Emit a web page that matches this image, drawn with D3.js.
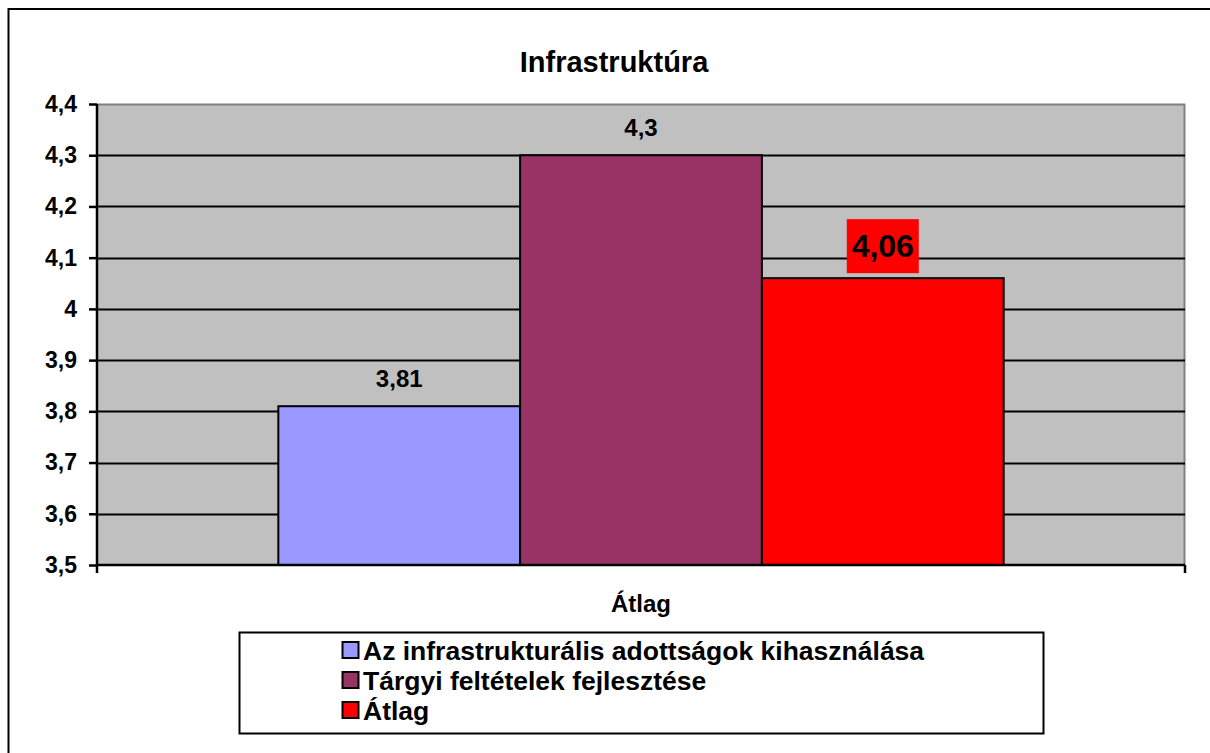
<!DOCTYPE html>
<html>
<head>
<meta charset="utf-8">
<script src="https://cdn.jsdelivr.net/npm/d3@7"></script>
<style>
  body { margin: 0; background: #fff; }
  text { font-family: Arial, "Liberation Sans", sans-serif; font-weight: bold; fill: #000; }
</style>
</head>
<body>
<div id="graf"></div>
<script>
const cim = "Infrastruktúra"
const kategoria = "Átlag"
const sorozatok = ["Az infrastrukturális adottságok kihasználása", "Tárgyi feltételek fejlesztése", "Átlag"]
const ertekek = [3.81, 4.3, 4.06]
const cimkek = ["3,81", "4,3", "4,06"]
const szinek = ["#9999FF", "#993366", "#FF0000"]
const yTicks = [3.5, 3.6, 3.7, 3.8, 3.9, 4, 4.1, 4.2, 4.3, 4.4]

const W = 1210, H = 753
const m = { left: 97, top: 104, right: 25, bottom: 188 }
const ancho = W - m.left - m.right
const alto = H - m.top - m.bottom

const svg = d3.select("#graf").append("svg").attr("width", W).attr("height", H)

// outer chart border (runs off the picture on the right and bottom)
svg.append("rect")
  .attr("x", 8.5).attr("y", 9).attr("width", 1300).attr("height", 900)
  .attr("fill", "none").attr("stroke", "#000").attr("stroke-width", 2)

svg.append("text")
  .attr("x", 614).attr("y", 72)
  .attr("text-anchor", "middle").attr("font-size", 29)
  .text(cim)

const g = svg.append("g").attr("transform", `translate(${m.left}, ${m.top})`)

const y = d3.scaleLinear().domain([3.5, 4.4]).range([alto, 0])
const x = d3.scaleBand().domain([kategoria]).range([0, ancho])
const xs = d3.scaleBand().domain(sorozatok).range([0, x.bandwidth()])
  .paddingOuter(0.75)

const loc = d3.formatLocale({ decimal: ",", thousands: " ", grouping: [3], currency: ["", ""] })
const fmt = (d) => loc.format("")(+d.toFixed(1))

// plot background
g.append("rect").attr("width", ancho).attr("height", alto).attr("fill", "#C0C0C0")
g.append("path")
  .attr("d", `M0,0.5H${ancho - 0.5}V${alto}`)
  .attr("fill", "none").attr("stroke", "#808080").attr("stroke-width", 2)

// gridlines
g.append("g").selectAll("line")
  .data(yTicks.filter((d) => d > 3.5 && d < 4.4))
  .join("line")
  .attr("x1", 0).attr("x2", ancho)
  .attr("y1", (d) => Math.round(y(d)) + 0.5).attr("y2", (d) => Math.round(y(d)) + 0.5)
  .attr("stroke", "#000").attr("stroke-width", 2)

// bars
g.append("g").selectAll("rect")
  .data(ertekek)
  .join("rect")
  .attr("x", (d, i) => x(kategoria) + xs(sorozatok[i]))
  .attr("y", (d) => y(d))
  .attr("width", xs.bandwidth())
  .attr("height", (d) => alto - y(d))
  .attr("fill", (d, i) => szinek[i])
  .attr("stroke", "#000").attr("stroke-width", 2)

// axes
const yAxis = d3.axisLeft(y).tickValues(yTicks).tickFormat(fmt).tickSize(8).tickPadding(12)
const yg = g.append("g").call(yAxis)
yg.select(".domain").attr("stroke-width", 2.5).attr("d", `M0,0V${alto}`)
yg.selectAll(".tick line").attr("stroke-width", 2.5)
yg.selectAll("text").attr("font-size", 23).attr("font-family", "Arial, 'Liberation Sans', sans-serif")

const xg = g.append("g").attr("transform", `translate(0, ${alto})`)
xg.append("line").attr("x1", 0).attr("x2", ancho).attr("stroke", "#000").attr("stroke-width", 2.5)
xg.selectAll(".tk").data([0, ancho]).join("line")
  .attr("x1", (d) => d).attr("x2", (d) => d).attr("y1", 0).attr("y2", 8)
  .attr("stroke", "#000").attr("stroke-width", 2.5)
xg.append("text")
  .attr("x", x(kategoria) + x.bandwidth() / 2).attr("y", 47)
  .attr("text-anchor", "middle").attr("font-size", 24)
  .text(kategoria)

// value labels
const lbl = g.append("g")
ertekek.forEach((d, i) => {
  const cx = x(kategoria) + xs(sorozatok[i]) + xs.bandwidth() / 2
  if (i === 2) {
    lbl.append("rect")
      .attr("x", cx - 36).attr("y", y(d) - 59).attr("width", 72).attr("height", 54)
      .attr("fill", "#FF0000")
    lbl.append("text")
      .attr("x", cx).attr("y", y(d) - 21)
      .attr("text-anchor", "middle").attr("font-size", 32)
      .text(cimkek[i])
  } else {
    lbl.append("text")
      .attr("x", cx).attr("y", y(d) - 19)
      .attr("text-anchor", "middle").attr("font-size", 24)
      .text(cimkek[i])
  }
})

// legend
const leg = svg.append("g")
leg.append("rect")
  .attr("x", 239.5).attr("y", 632.5).attr("width", 804).attr("height", 101)
  .attr("fill", "#fff").attr("stroke", "#000").attr("stroke-width", 2)
sorozatok.forEach((s, i) => {
  const ly = 650 + i * 30
  leg.append("rect")
    .attr("x", 342.5).attr("y", ly - 8).attr("width", 16).attr("height", 16)
    .attr("fill", szinek[i]).attr("stroke", "#000").attr("stroke-width", 2)
  leg.append("text")
    .attr("x", 363).attr("y", ly + 10)
    .attr("font-size", 26.5)
    .text(s)
})
</script>
</body>
</html>
